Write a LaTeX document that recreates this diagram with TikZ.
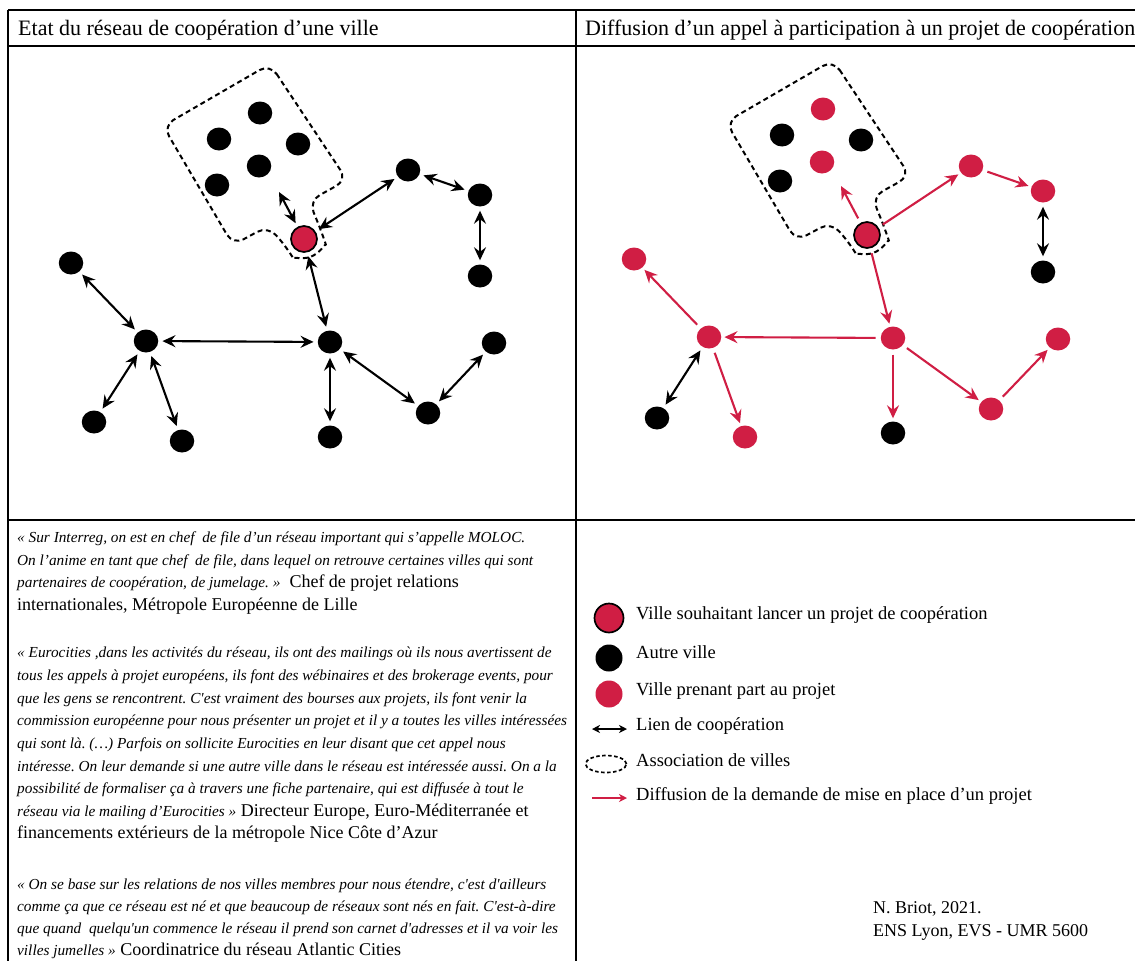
\documentclass[tikz,border=0pt]{standalone}
\usepackage{fontspec}
\setmainfont{Liberation Serif}
\usetikzlibrary{arrows.meta,shapes.geometric}
\definecolor{cred}{RGB}{208,30,68}
\newcommand\qi[1]{{\fontsize{15.3}{20}\selectfont\itshape #1}}
\frenchspacing
\begin{document}
\begin{tikzpicture}[x=1pt,y=-1pt,
  city/.style={ellipse, fill=black, minimum width=24.5pt, minimum height=23pt, inner sep=0pt},
  rcity/.style={ellipse, fill=cred, minimum width=24.5pt, minimum height=23pt, inner sep=0pt},
  start/.style={circle, fill=cred, draw=black, line width=1.7pt, minimum size=26pt, inner sep=0pt},
  coop/.style={{Stealth[length=13pt,width=12pt,inset=4.5pt]}-{Stealth[length=13pt,width=12pt,inset=4.5pt]}, line width=2.1pt, shorten <=4pt, shorten >=4pt},
  diff/.style={-{Stealth[length=13pt,width=12pt,inset=4.5pt]}, draw=cred, line width=2.1pt, shorten <=5pt, shorten >=3pt},
  assoc/.style={dash pattern=on 5pt off 3.5pt, line width=2pt, rounded corners=12pt},
  frame/.style={line width=2pt},
  hd/.style={font=\fontsize{22}{26}\selectfont, inner sep=0pt, anchor=base west},
  bt/.style={font=\fontsize{18}{22}\selectfont, inner sep=0pt, anchor=base west},
  lt/.style={font=\fontsize{18.5}{22}\selectfont, inner sep=0pt, anchor=base west}
]
\useasboundingbox (0,0) rectangle (1135,961);
\fill[white] (0,0) rectangle (1135,961);

% table frame
\draw[frame] (8,10) -- (1135,10);
\draw[frame] (8,46) -- (1135,46);
\draw[frame] (8,520) -- (1135,520);
\draw[frame] (8,10) -- (8,961);
\draw[frame] (576,10) -- (576,961);

% headers
\node[hd] (hd1) at (18,35) {Etat du réseau de coopération d’une ville};
\node[hd] (hd2) at (585,35) {Diffusion d’un appel à participation à un projet de coopération};

% ---------- left panel ----------
\draw[assoc] (270,64) -- (347,180) -- (309,201) -- (322.1,233.1)
  arc[start angle=-18, end angle=150, radius=19] -- (268,226) -- (233,245) -- (163,126) -- cycle;
\node[city] (a1) at (260,113) {};
\node[city] (a2) at (219,139) {};
\node[city] (a3) at (298,144) {};
\node[city] (a4) at (259,166) {};
\node[city] (a5) at (217,185) {};
\node[start] (s) at (304,239) {};
\node[city] (n1) at (408,170) {};
\node[city] (n2) at (480,195) {};
\node[city] (n3) at (480,276) {};
\node[city] (n4) at (71,263) {};
\node[city] (n5) at (146,341) {};
\node[city] (n6) at (330,342) {};
\node[city] (n7) at (494,343) {};
\node[city] (n8) at (94,422) {};
\node[city] (n9) at (182,441) {};
\node[city] (n10) at (428,413) {};
\node[city] (n11) at (330,437) {};
\coordinate (ac) at (279,192);
\draw[coop, shorten <=0pt] (ac) -- (s);
\draw[coop] (s) -- (n1);
\draw[coop] (s) -- (n6);
\draw[coop] (n1) -- (n2);
\draw[coop] (n2) -- (n3);
\draw[coop] (n4) -- (n5);
\draw[coop] (n5) -- (n6);
\draw[coop] (n5) -- (n8);
\draw[coop] (n5) -- (n9);
\draw[coop] (n6) -- (n11);
\draw[coop] (n6) -- (n10);
\draw[coop] (n10) -- (n7);

% ---------- right panel ----------
\begin{scope}[shift={(563,-4)}]
\draw[assoc] (270,64) -- (347,180) -- (309,201) -- (322.1,233.1)
  arc[start angle=-18, end angle=150, radius=19] -- (268,226) -- (233,245) -- (163,126) -- cycle;
\node[rcity] (ra1) at (260,113) {};
\node[city] (ra2) at (219,139) {};
\node[city] (ra3) at (298,144) {};
\node[rcity] (ra4) at (259,166) {};
\node[city] (ra5) at (217,185) {};
\node[start] (rs) at (304,239) {};
\node[rcity] (rn1) at (408,170) {};
\node[rcity] (rn2) at (480,195) {};
\node[city] (rn3) at (480,276) {};
\node[rcity] (rn4) at (71,263) {};
\node[rcity] (rn5) at (146,341) {};
\node[rcity] (rn6) at (330,342) {};
\node[rcity] (rn7) at (495,343) {};
\node[city] (rn8) at (94,422) {};
\node[rcity] (rn9) at (182,441) {};
\node[rcity] (rn10) at (428,413) {};
\node[city] (rn11) at (330,437) {};
\coordinate (rac) at (278,190);
\draw[diff, shorten >=0pt] (rs) -- (rac);
\draw[diff] (rs) -- (rn1);
\draw[diff] (rn1) -- (rn2);
\draw[coop] (rn2) -- (rn3);
\draw[diff] (rs) -- (rn6);
\draw[diff] (rn6) -- (rn5);
\draw[diff] (rn5) -- (rn4);
\draw[coop] (rn5) -- (rn8);
\draw[diff] (rn5) -- (rn9);
\draw[diff] (rn6) -- (rn11);
\draw[diff] (rn6) -- (rn10);
\draw[diff] (rn10) -- (rn7);
\end{scope}

% ---------- quotes ----------
\node[bt] (q1a) at (17,542) {\qi{« Sur Interreg, on est en chef\ \ de file d’un réseau important qui s’appelle MOLOC.}};
\node[bt] (q1b) at (17,565) {\qi{On l’anime en tant que chef\ \ de file, dans lequel on retrouve certaines villes qui sont}};
\node[bt] (q1c) at (17,587) {\qi{partenaires de coopération, de jumelage. »}\ \ Chef de projet relations};
\node[bt] (q1d) at (17,610) {internationales, Métropole Européenne de Lille};

\node[bt] (q2a) at (17,657) {\qi{« Eurocities ,dans les activités du réseau, ils ont des mailings où ils nous avertissent de}};
\node[bt] (q2b) at (17,680) {\qi{tous les appels à projet européens, ils font des wébinaires et des brokerage events, pour}};
\node[bt] (q2c) at (17,703) {\qi{que les gens se rencontrent. C\textquotesingle est vraiment des bourses aux projets, ils font venir la}};
\node[bt] (q2d) at (17,725) {\qi{commission européenne pour nous présenter un projet et il y a toutes les villes intéressées}};
\node[bt] (q2e) at (17,748) {\qi{qui sont là. (…) Parfois on sollicite Eurocities en leur disant que cet appel nous}};
\node[bt] (q2f) at (17,771) {\qi{intéresse. On leur demande si une autre ville dans le réseau est intéressée aussi. On a la}};
\node[bt] (q2g) at (17,793) {\qi{possibilité de formaliser ça à travers une fiche partenaire, qui est diffusée à tout le}};
\node[bt] (q2h) at (17,816) {\qi{réseau via le mailing d’Eurocities »} Directeur Europe, Euro-Méditerranée et};
\node[bt] (q2i) at (17,838) {financements extérieurs de la métropole Nice Côte d’Azur};

\node[bt] (q3a) at (17,889) {\qi{« On se base sur les relations de nos villes membres pour nous étendre, c\textquotesingle est d\textquotesingle ailleurs}};
\node[bt] (q3b) at (17,911) {\qi{comme ça que ce réseau est né et que beaucoup de réseaux sont nés en fait. C\textquotesingle est-à-dire}};
\node[bt] (q3c) at (17,933) {\qi{que quand\ \ quelqu\textquotesingle un commence le réseau il prend son carnet d\textquotesingle adresses et il va voir les}};
\node[bt] (q3d) at (17,955) {\qi{villes jumelles »} Coordinatrice du réseau Atlantic Cities};

% ---------- legend ----------
\node[start, minimum size=29pt] (lg1) at (609,618) {};
\node[lt] (lt1) at (636,619) {Ville souhaitant lancer un projet de coopération};
\node[city, minimum width=27pt, minimum height=27pt] (lg2) at (609,658) {};
\node[lt] (lt2) at (636,658) {Autre ville};
\node[rcity, minimum width=27pt, minimum height=27pt] (lg3) at (609,694) {};
\node[lt] (lt3) at (636,695) {Ville prenant part au projet};
\coordinate (lg4a) at (592,729);
\coordinate (lg4b) at (627,729);
\draw[{Stealth[length=8pt,width=8pt,inset=2.5pt]}-{Stealth[length=8pt,width=8pt,inset=2.5pt]}, line width=1.6pt] (lg4a) -- (lg4b);
\node[lt] (lt4) at (636,730) {Lien de coopération};
\node[draw, ellipse, dash pattern=on 3.5pt off 2.5pt, line width=1.7pt, minimum width=41pt, minimum height=17pt, inner sep=0pt] (lg5) at (606,764) {};
\node[lt] (lt5) at (636,766) {Association de villes};
\coordinate (lg6a) at (592,798);
\coordinate (lg6b) at (627,798);
\draw[-{Stealth[length=8pt,width=8pt,inset=2.5pt]}, draw=cred, line width=1.6pt] (lg6a) -- (lg6b);
\node[lt] (lt6) at (636,800) {Diffusion de la demande de mise en place d’un projet};

% ---------- credits ----------
\node[bt] (cr1) at (873,913) {N. Briot, 2021.};
\node[bt] (cr2) at (873,936) {ENS Lyon, EVS - UMR 5600};
\end{tikzpicture}
\end{document}
